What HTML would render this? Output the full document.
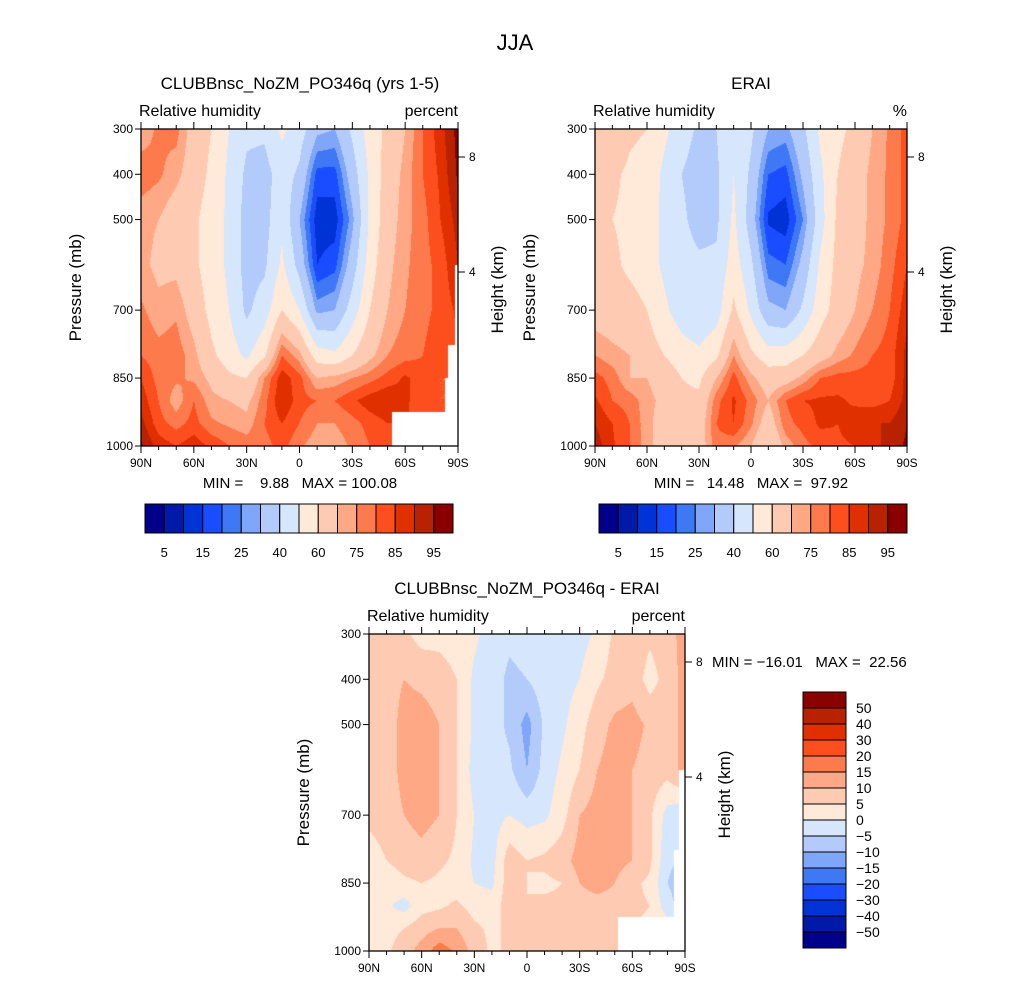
<!DOCTYPE html>
<html><head><meta charset="utf-8">
<style>
body{margin:0;background:#fff;}
#wrap{position:relative;width:1030px;height:983px;overflow:hidden;font-family:"Liberation Sans",sans-serif;}
canvas{position:absolute;left:0;top:0;}
svg{position:absolute;left:0;top:0;}
text{font-family:"Liberation Sans",sans-serif;fill:#000;white-space:pre;}
</style></head>
<body>
<div id="wrap">
<canvas id="cv" width="1030" height="983"></canvas>
<svg id="sv" width="1030" height="983"></svg>
</div>
<script>
// ---- data ----
const lats = [90,80,70,60,50,40,30,20,10,0,-10,-20,-30,-40,-50,-60,-70,-80,-90];
const pressures = [300,400,500,600,700,800,850,900,950,1000];
const xTickLabels = ['90N','60N','30N','0','30S','60S','90S'];
const yTickLabels = [300,400,500,700,850,1000];
const absLevels = [5,10,15,20,25,30,40,50,60,70,75,80,85,90,95];
const absBarLabels = ['5','15','25','40','60','75','85','95'];
const diffLevels = [-50,-40,-30,-20,-15,-10,-5,0,5,10,15,20,30,40,50];
const palette = ['#00008b','#0019a8','#0033d6','#1a4dff','#3f78f5','#7fa6f8','#b3cbfb','#d6e7fd','#ffe9d8','#fecbb2','#fea886','#fd7a4d','#fd4e1e','#e03000','#b82200','#8a0000'];
const modelRH = [
[72,76,77,66,60,50,42,42,52,45,32,30,42,55,62,70,80,88,97],
[78,76,72,65,58,48,38,36,45,38,18,18,35,52,65,72,80,86,96],
[72,70,65,62,55,48,36,36,48,30,12,12,28,52,66,73,78,85,92],
[72,68,68,62,55,48,36,38,52,36,15,18,35,55,68,74,78,82,90],
[76,72,74,66,57,50,38,45,60,50,28,30,45,60,70,75,78,82,86],
[80,77,78,72,62,55,48,58,80,72,55,52,60,68,75,78,80,84,84],
[85,78,76,74,68,62,60,75,88,82,70,72,75,78,82,86,82,80,80],
[88,80,72,80,72,70,68,78,90,82,80,80,84,88,90,86,82,80,80],
[92,82,78,82,76,74,72,80,85,80,75,75,78,82,85,85,84,82,80],
[96,88,85,88,84,80,78,78,82,76,72,72,76,80,82,82,82,80,80]];
const eraiRH = [
[62,70,62,60,52,45,38,40,50,42,30,28,38,52,58,62,70,76,82],
[70,62,58,56,48,40,35,38,50,38,20,18,32,48,60,65,72,76,82],
[62,60,58,54,48,42,36,38,52,35,14,12,25,46,62,66,72,76,82],
[65,62,58,55,48,44,42,42,55,42,22,20,33,52,63,68,72,78,85],
[66,65,64,60,52,45,42,45,62,48,32,30,42,56,64,70,75,80,88],
[75,72,70,65,60,55,52,58,75,62,55,55,60,66,72,76,80,82,92],
[82,78,70,70,66,60,58,70,82,72,65,66,72,80,82,82,82,82,92],
[86,80,78,72,68,62,62,78,86,78,70,80,85,86,86,84,83,85,92],
[90,85,80,72,66,62,65,80,85,76,65,78,82,86,85,88,90,90,95],
[93,86,80,72,66,62,65,78,76,70,60,72,78,82,84,85,88,92,96]];
const diffRH = [
[8,7,6,3,3,2,1,-2,-4,-3,-2,-2,-2,1,6,8,6,8,12],
[7,8,10,9,8,5,-1,-3,-6,-5,-2,-2,0,4,7,8,3,7,12],
[10,7,12,12,10,5,-1,-3,-6,-12,-4,-1,3,8,11,12,9,7,12],
[8,7,12,12,10,5,-2,-3,-4,-10,-3,1,5,10,12,10,8,7,12],
[6,7,10,12,10,5,0,-2,0,-2,-1,3,10,12,12,10,6,-2,-4],
[3,5,7,8,6,4,-1,-2,8,5,6,8,12,12,12,10,6,-4,-6],
[4,2,4,5,4,2,0,-1,8,5,4,5,10,12,10,6,4,-5,-8],
[0,1,-2,3,4,6,3,2,8,5,6,6,8,8,8,6,5,-3,-8],
[2,3,5,8,10,10,6,4,6,6,7,8,7,6,6,5,4,3,0],
[3,4,8,12,18,14,8,4,6,7,8,8,7,5,5,5,4,4,3]];

// ---- rendering ----
const cv=document.getElementById('cv'), ctx=cv.getContext('2d');
const sv=document.getElementById('sv');
const NS='http://www.w3.org/2000/svg';
function el(tag,attrs,parent){const e=document.createElementNS(NS,tag);for(const k in attrs)e.setAttribute(k,attrs[k]);(parent||sv).appendChild(e);return e;}
function txt(s,x,y,size,anchor,parent,rot){const t=el('text',{x:x,y:y,'font-size':size,'text-anchor':anchor||'middle'},parent);if(rot)t.setAttribute('transform','rotate(-90 '+x+' '+y+')');t.textContent=s;return t;}
function hexRGB(h){return [parseInt(h.substr(1,2),16),parseInt(h.substr(3,2),16),parseInt(h.substr(5,2),16)];}
const palRGB=palette.map(hexRGB);
function sample(grid,fx,p){
  const n=lats.length-1; let xi=Math.min(Math.floor(fx),n-1); const tx=fx-xi;
  let j=0; while(j<pressures.length-2 && p>pressures[j+1]) j++;
  const ty=(p-pressures[j])/(pressures[j+1]-pressures[j]);
  const a=grid[j][xi],b=grid[j][xi+1],c=grid[j+1][xi],d=grid[j+1][xi+1];
  return a*(1-tx)*(1-ty)+b*tx*(1-ty)+c*(1-tx)*ty+d*tx*ty;
}
function xOf(P,lat){return P.x0+(90-lat)/180*P.w;}
function yOf(P,p){return P.y0+(p-300)/700*P.h;}
function drawPanel(P){
  const g=el('g',{},sv);
  
  
  const img=ctx.createImageData(P.w,P.h);
  for(let py=0;py<P.h;py++){
    const p=300+(py+0.5)/P.h*700;
    for(let px=0;px<P.w;px++){
      const fx=(px+0.5)/P.w*(lats.length-1);
      const v=sample(P.grid,fx,p);
      let k=0; while(k<P.levels.length && v>=P.levels[k]) k++;
      const c=palRGB[k]; const o=(py*P.w+px)*4;
      img.data[o]=c[0];img.data[o+1]=c[1];img.data[o+2]=c[2];img.data[o+3]=255;
    }
  }
  ctx.putImageData(img,P.x0,P.y0);
  ctx.fillStyle='#fff';
  P.mask.forEach(m=>ctx.fillRect(m[0],m[1],m[2],m[3]));
  const fr=el('rect',{x:P.x0,y:P.y0,width:P.w,height:P.h,fill:'none',stroke:'#000','stroke-width':1.3},g);
  
  
  for(let lat=90;lat>=-90;lat-=10){
    const x=xOf(P,lat); const major=(lat%30===0); const L=major?7:4;
    el('line',{x1:x,y1:P.y0+P.h,x2:x,y2:P.y0+P.h+L,stroke:'#000','stroke-width':1},g);
    el('line',{x1:x,y1:P.y0,x2:x,y2:P.y0-L,stroke:'#000','stroke-width':1},g);
  }
  xTickLabels.forEach((s,i)=>{const t=txt(s,xOf(P,90-30*i),P.y0+P.h+21,12,'middle',g);
    
    });
  yTickLabels.forEach(p=>{const y=yOf(P,p);
    el('line',{x1:P.x0,y1:y,x2:P.x0-6,y2:y,stroke:'#000','stroke-width':1},g);
    const t=txt(String(p),P.x0-8,y+4,12,'end',g);
    
    });
  [[8,P.y0+28],[4,P.y0+143]].forEach(h=>{
    el('line',{x1:P.x0+P.w,y1:h[1],x2:P.x0+P.w+7,y2:h[1],stroke:'#000','stroke-width':1},g);
    const t=txt(String(h[0]),P.x0+P.w+11,h[1]+4,12,'start',g);
    
    });
  const yt=txt('Pressure (mb)',P.x0-60,P.y0+P.h/2,17,'middle',g,true);
  
  
  const ht=txt('Height (km)',P.x0+P.w+45,P.y0+P.h/2+2,17,'middle',g,true);
  
  
  const vn=txt('Relative humidity',P.x0-2,P.y0-13,16,'start',g);
  
  
  const un=txt(P.units,P.x0+P.w,P.y0-13,16,'end',g);
  
  
  const ti=txt(P.title,P.tx,P.y0-40,17,'middle',g);
  
  
}
function hBar(x0,y0,w,h,name){
  const g=el('g',{},sv);
  
  
  const bw=w/palette.length;
  palette.forEach((c,i)=>{const r=el('rect',{x:x0+i*bw,y:y0,width:bw,height:h,fill:c,stroke:'#000','stroke-width':1},g);
    
    });
  absBarLabels.forEach((s,i)=>{const t=txt(s,x0+(2*i+1)*bw,y0+h+24,13,'middle',g);
    
    });
}
const panels=[
 {name:'model-panel',grid:modelRH,x0:141,y0:129,w:317,h:317,levels:absLevels,units:'percent',title:'CLUBBnsc_NoZM_PO346q (yrs 1-5)',tx:300,
  mask:[[392,412,66,34],[455,265,3,181],[448,345,10,101],[445,378,13,68]]},
 {name:'erai-panel',grid:eraiRH,x0:595,y0:129,w:312,h:317,levels:absLevels,units:'%',title:'ERAI',tx:751,mask:[]},
 {name:'diff-panel',grid:diffRH,x0:369,y0:634,w:316,h:317,levels:diffLevels,units:'percent',title:'CLUBBnsc_NoZM_PO346q - ERAI',tx:527,
  mask:[[618,917,67,34],[679,770,6,181],[674,850,11,101]]}
];
panels.forEach(drawPanel);
const mt=txt('JJA',515,50,22,'middle');


const m1=txt('MIN =    9.88   MAX = 100.08',300,488,15,'middle');


const m2=txt('MIN =   14.48   MAX =  97.92',751,488,15,'middle');


const m3=txt('MIN = \u221216.01   MAX =  22.56',712,667,15,'start');


hBar(145,504,308,29,'model-colorbar');
hBar(599,504,308,29,'erai-colorbar');
const vg=el('g',{},sv);


const rev=palette.slice().reverse(); const vh=256/16;
rev.forEach((c,i)=>{const r=el('rect',{x:803,y:692+i*vh,width:43,height:vh,fill:c,stroke:'#000','stroke-width':1},vg);
  
  });
diffLevels.slice().reverse().forEach((v,i)=>{const t=txt(String(v).replace('-','\u2212'),856,692+(i+1)*vh+5,14,'start',vg);
  
  });
</script>
</body></html>
